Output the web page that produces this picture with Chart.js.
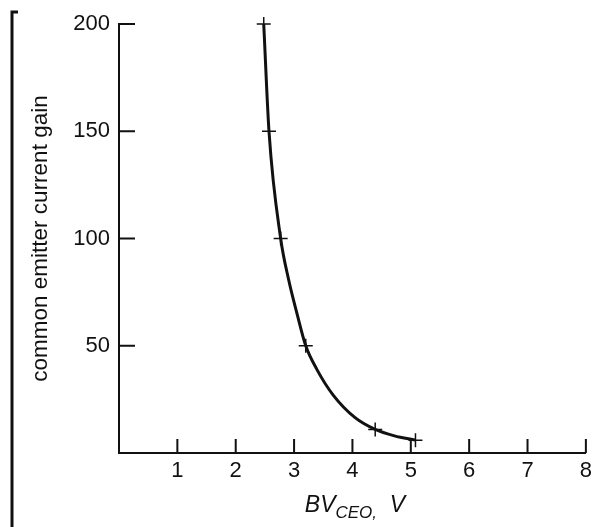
<!DOCTYPE html>
<html>
<head>
<meta charset="utf-8">
<script src="https://cdn.jsdelivr.net/npm/chart.js@4"></script>
<style>
  html, body { margin: 0; padding: 0; background: #fff; }
  canvas { display: block; }
</style>
</head>
<body>
<canvas id="gainChart" width="597" height="527"></canvas>
<script>
// curve
const curveBv = [2.48, 2.57, 2.77, 2.905, 3.05, 3.20, 3.39, 3.67, 4.04, 4.39, 4.72, 5.08];
const curveGain = [200, 150, 100, 81, 65, 50, 39, 27, 16.6, 11, 8, 6];
// measured points (crosses)
const markBv = [2.48, 2.57, 2.77, 3.20, 4.39, 5.08];
const markGain = [200, 150, 100, 50, 11, 6];
const xTicks = [1, 2, 3, 4, 5, 6, 7, 8];
const yTicks = [50, 100, 150, 200];

const ink = '#111';
const font = 'Liberation Sans, Arial, Helvetica, sans-serif';

// ticks pointing into the plot, plus the frame line and x title
const extras = {
    id: 'extras',
    afterDraw(chart) {
        const ctx = chart.ctx;
        const x = chart.scales.x, y = chart.scales.y;
        const area = chart.chartArea;
        ctx.save();
        ctx.strokeStyle = ink;
        ctx.lineWidth = 2;
        ctx.beginPath();
        xTicks.forEach(v => {
            const px = x.getPixelForValue(v);
            ctx.moveTo(px, area.bottom);
            ctx.lineTo(px, area.bottom - 14);
        });
        yTicks.forEach(v => {
            const py = y.getPixelForValue(v);
            ctx.moveTo(area.left, py);
            ctx.lineTo(area.left + 16, py);
        });
        ctx.stroke();

        // left frame bracket
        ctx.lineWidth = 3;
        ctx.beginPath();
        ctx.moveTo(18, 12);
        ctx.lineTo(12, 12);
        ctx.lineTo(12, 527);
        ctx.stroke();

        // x axis title with subscript
        ctx.fillStyle = ink;
        ctx.textBaseline = 'alphabetic';
        const big = 'italic 23px ' + font;
        const small = 'italic 17px ' + font;
        ctx.font = big;
        const w1 = ctx.measureText('BV').width;
        const w3 = ctx.measureText('  V').width;
        ctx.font = small;
        const w2 = ctx.measureText('CEO,').width;
        let cx = 355 - (w1 + w2 + w3) / 2;
        const base = 512;
        ctx.font = big;
        ctx.fillText('BV', cx, base);
        cx += w1;
        ctx.font = small;
        ctx.fillText('CEO,', cx, base + 6);
        cx += w2;
        ctx.font = big;
        ctx.fillText('  V', cx, base);
        ctx.restore();
    }
};

new Chart(document.getElementById('gainChart').getContext('2d'), {
    type: 'line',
    data: {
        datasets: [{
            data: curveBv.map((v, i) => ({ x: v, y: curveGain[i] })),
            borderColor: ink,
            borderWidth: 3,
            cubicInterpolationMode: 'monotone',
            pointRadius: 0,
            fill: false,
        }, {
            type: 'scatter',
            data: markBv.map((v, i) => ({ x: v, y: markGain[i] })),
            pointStyle: 'cross',
            pointRadius: 7,
            pointBorderWidth: 1.5,
            pointBorderColor: ink,
        }]
    },
    options: {
        responsive: false,
        animation: false,
        clip: false,
        layout: { padding: { left: 0, right: 8, top: 24, bottom: 0 } },
        plugins: { legend: { display: false }, tooltip: { enabled: false } },
        scales: {
            x: {
                type: 'linear',
                min: 0,
                max: 8,
                afterBuildTicks: s => { s.ticks = xTicks.map(v => ({ value: v })); },
                afterFit: s => { s.height = 74; },
                grid: { drawOnChartArea: false, drawTicks: false },
                border: { display: true, color: ink, width: 2 },
                ticks: { color: ink, padding: 5, font: { family: font, size: 22 } },
            },
            y: {
                min: 0,
                max: 200,
                afterBuildTicks: s => { s.ticks = yTicks.map(v => ({ value: v })); },
                afterFit: s => { s.width = 119; },
                grid: { drawOnChartArea: false, drawTicks: false },
                border: { display: true, color: ink, width: 2 },
                ticks: { color: ink, padding: 9, font: { family: font, size: 22 } },
                title: {
                    display: true,
                    text: 'common emitter current gain',
                    color: ink,
                    font: { family: font, size: 22.5 },
                    padding: { top: 27, bottom: 0 },
                },
            }
        }
    },
    plugins: [extras]
});
</script>
</body>
</html>
